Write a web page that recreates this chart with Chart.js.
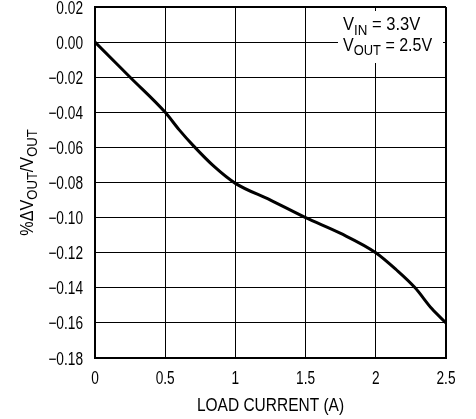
<!DOCTYPE html>
<html>
<head>
<meta charset="utf-8">
<script src="https://cdn.jsdelivr.net/npm/chart.js@4/dist/chart.umd.min.js"></script>
<style>
  html, body { margin: 0; padding: 0; background: #fff; }
  #wrap { width: 476px; height: 419px; }
</style>
</head>
<body>
<div id="wrap"><canvas id="regChart" width="476" height="419"></canvas></div>
<script>
// Load current (A) and output change (%)
const loadCurrent = [0, 0.25, 0.5, 0.6, 0.7, 0.85, 1.0, 1.25, 1.5, 1.75, 2.0, 2.15, 2.28, 2.4, 2.5];
const deltaVout = [0, -0.02, -0.04, -0.05, -0.059, -0.071, -0.0805, -0.09, -0.1, -0.109, -0.12, -0.13, -0.14, -0.152, -0.16];

const xTicks = [0, 0.5, 1, 1.5, 2, 2.5];
const xTickLabels = ['0', '0.5', '1', '1.5', '2', '2.5'];
const yTicks = [0.02, 0, -0.02, -0.04, -0.06, -0.08, -0.1, -0.12, -0.14, -0.16, -0.18];
const yTickLabels = ['0.02', '0.00', '\u22120.02', '\u22120.04', '\u22120.06', '\u22120.08',
                     '\u22120.10', '\u22120.12', '\u22120.14', '\u22120.16', '\u22120.18'];

const FONT = "'Liberation Sans', Arial, sans-serif";

// draws narrow text: parts = [[text, size, dy], ...], squeezed horizontally by s
function drawNarrow(ctx, parts, x, y, align, s) {
    let w = 0;
    parts.forEach(([txt, size]) => {
        ctx.font = size + 'px ' + FONT;
        w += ctx.measureText(txt).width;
    });
    let x0 = x;
    if (align === 'center') x0 = x - w * s / 2;
    if (align === 'right') x0 = x - w * s;
    ctx.save();
    ctx.textAlign = 'left';
    ctx.translate(x0, y);
    ctx.scale(s, 1);
    let cx = 0;
    parts.forEach(([txt, size, dy]) => {
        ctx.font = size + 'px ' + FONT;
        ctx.fillText(txt, cx, dy || 0);
        cx += ctx.measureText(txt).width;
    });
    ctx.restore();
}

const labelPlugin = {
    id: 'labels',
    afterDraw(chart) {
        const ctx = chart.ctx;
        const area = chart.chartArea;
        const xs = chart.scales.x;
        const ys = chart.scales.y;
        ctx.save();
        ctx.fillStyle = '#000';
        ctx.textBaseline = 'alphabetic';

        // tick labels, placed by the scales
        yTicks.forEach((v, i) => {
            drawNarrow(ctx, [[yTickLabels[i], 18, 0]], 83, ys.getPixelForValue(v) + 6.5, 'right', 0.76);
        });
        xTicks.forEach((v, i) => {
            drawNarrow(ctx, [[xTickLabels[i], 18, 0]], xs.getPixelForValue(v), 384, 'center', 0.76);
        });

        // x axis title
        drawNarrow(ctx, [['LOAD CURRENT (A)', 18, 0]], (area.left + area.right) / 2, 411, 'center', 0.86);

        // y axis title, rotated
        ctx.save();
        ctx.translate(33, (area.top + area.bottom) / 2);
        ctx.rotate(-Math.PI / 2);
        drawNarrow(ctx, [['%\u0394V', 18, 0], ['OUT', 14.5, 4], ['/V', 18, 0], ['OUT', 14.5, 4]], 0, 0, 'center', 0.9);
        ctx.restore();

        // condition box
        ctx.fillStyle = '#fff';
        ctx.fillRect(338, 11, 105, 52);
        ctx.fillStyle = '#000';
        drawNarrow(ctx, [['V', 18, 0], ['IN', 14.5, 5], [' = 3.3V', 18, 0]], 343, 30, 'left', 0.92);
        drawNarrow(ctx, [['V', 18, 0], ['OUT', 14.5, 4], [' = 2.5V', 18, 0]], 343, 51, 'left', 0.89);
        ctx.restore();
    }
};

const points = loadCurrent.map((x, i) => ({ x: x, y: deltaVout[i] }));

new Chart(document.getElementById('regChart'), {
    type: 'line',
    data: {
        datasets: [{
            data: points,
            borderColor: '#000',
            borderWidth: 3,
            pointRadius: 0,
            cubicInterpolationMode: 'monotone',
            fill: false
        }]
    },
    options: {
        responsive: false,
        animation: false,
        layout: { padding: { top: 7, right: 30, left: 0, bottom: 0 } },
        plugins: {
            legend: { display: false },
            tooltip: { enabled: false }
        },
        scales: {
            x: {
                type: 'linear',
                min: 0,
                max: 2.5,
                afterBuildTicks: axis => { axis.ticks = xTicks.map(v => ({ value: v })); },
                afterFit: axis => { axis.height = 61; },
                ticks: { display: false },
                grid: {
                    color: '#000',
                    lineWidth: c => (c.index === xTicks.length - 1 ? 2 : 1),
                    drawTicks: false
                },
                border: { color: '#000', width: 2 }
            },
            y: {
                type: 'linear',
                min: -0.18,
                max: 0.02,
                afterBuildTicks: axis => { axis.ticks = yTicks.map(v => ({ value: v })); },
                afterFit: axis => { axis.width = 95; },
                ticks: { display: false },
                grid: {
                    color: '#000',
                    lineWidth: c => (c.index === 0 ? 2 : 1),
                    drawTicks: false
                },
                border: { color: '#000', width: 2 }
            }
        }
    },
    plugins: [labelPlugin]
});
</script>
</body>
</html>
